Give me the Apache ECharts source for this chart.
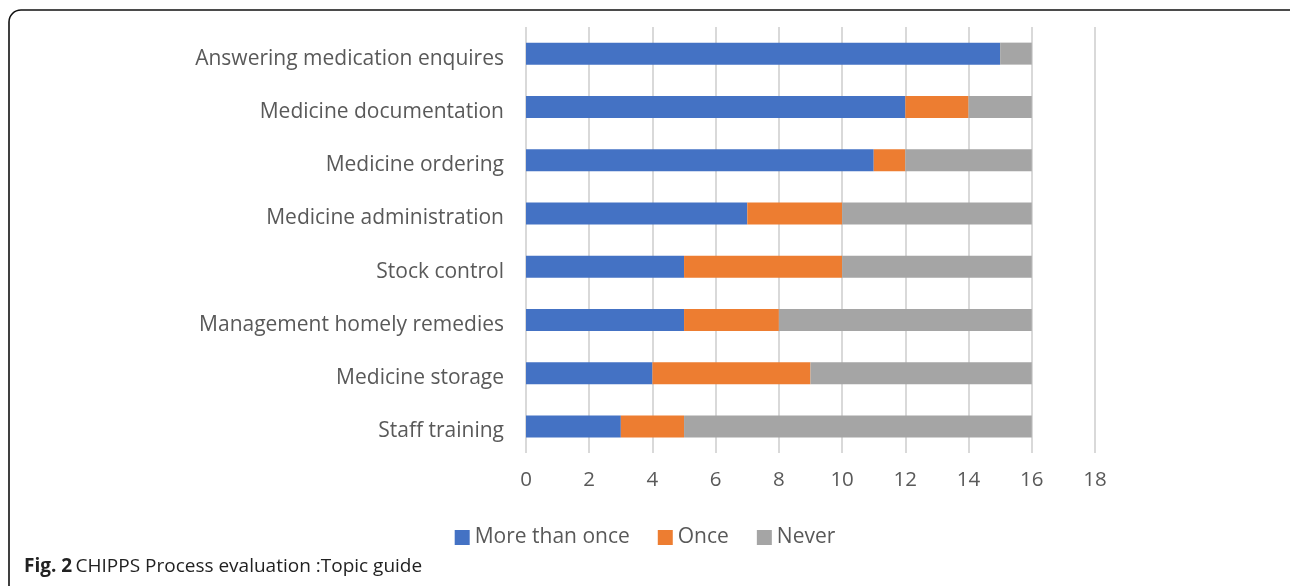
<!DOCTYPE html>
<html><head><meta charset="utf-8">
<script src="https://cdn.jsdelivr.net/npm/echarts@6/dist/echarts.min.js"></script>
<style>html,body{margin:0;padding:0;background:#fff}#c{width:1290px;height:586px}</style>
</head><body><div id="c"></div>
<script>
const categories = ["Staff training","Medicine storage","Management homely remedies","Stock control","Medicine administration","Medicine ordering","Medicine documentation","Answering medication enquires"];
const moreThanOnce = [3,4,5,5,7,11,12,15];
const once = [2,5,3,5,3,1,2,0];
const never = [11,7,8,6,6,4,2,1];
const xTicks = [0,2,4,6,8,10,12,14,16,18];
const font = "'Open Sans', sans-serif";
const chart = echarts.init(document.getElementById('c'));
function s(name, data, color){return {name, type:'bar', stack:'t', data, barWidth:22, itemStyle:{color}, emphasis:{disabled:true}};}
chart.setOption({
  animation:false,
  textStyle:{fontFamily:font},
  grid:{left:526, right:195, top:27, bottom:133, containLabel:false},
  xAxis:{type:'value', min:xTicks[0], max:xTicks[xTicks.length-1], interval:2,
    axisLine:{show:false}, axisTick:{show:false},
    splitLine:{lineStyle:{color:'#d9d9d9', width:2}},
    axisLabel:{color:'#595959', fontSize:20.5, fontFamily:font, margin:17}},
  yAxis:{type:'category', data:categories, axisLine:{show:false}, axisTick:{show:false},
    axisLabel:{margin:22, formatter:v=>'{a|'+v+'}',
      rich:{a:{color:'#595959', fontSize:21, fontFamily:font, padding:[10,0,0,0]}}}},
  legend:{bottom:33, left:'center', itemWidth:15, itemHeight:15, itemGap:28, icon:'rect',
    textStyle:{color:'#595959', fontSize:21, fontFamily:font}, selectedMode:false},
  series:[s('More than once', moreThanOnce, '#4472c4'), s('Once', once, '#ed7d31'), s('Never', never, '#a5a5a5')],
  graphic:[
    {type:'rect', shape:{x:9, y:10, width:1300, height:620, r:12}, style:{fill:'none', stroke:'#111', lineWidth:1.6}, silent:true},
    {type:'text', left:24, top:557, style:{rich:{b:{fontWeight:'bold', fontSize:19, fill:'#222', fontFamily:font}, n:{fontSize:19, fill:'#222', fontFamily:font}}, text:'{b|Fig. 2} {n|CHIPPS Process evaluation :Topic guide}'}}
  ]
});
</script></body></html>
